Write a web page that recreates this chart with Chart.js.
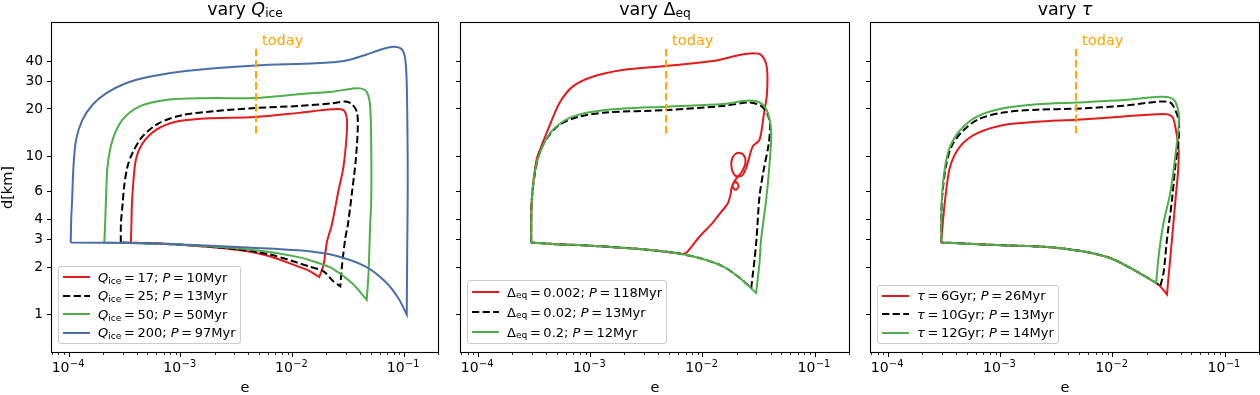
<!DOCTYPE html>
<html>
<head>
<meta charset="utf-8">
<script src="https://cdn.jsdelivr.net/npm/chart.js@4.4.0/dist/chart.umd.min.js"></script>
<style>
  html, body { margin: 0; padding: 0; background: #fff; }
  #wrap { position: relative; width: 1260px; height: 395px; overflow: hidden; font-family: "DejaVu Sans", sans-serif; color: #000; }
  canvas { position: absolute; top: 0; }
  .title { position: absolute; top: -1px; font-size: 17.5px; line-height: 20px; text-align: center; white-space: nowrap; }
  .sb { font-size: 70%; position: relative; top: 0.2em; }
  .legend { position: absolute; bottom: 51px; background: rgba(255,255,255,0.8); border: 1px solid #ccc; border-radius: 3px; padding: 1px 4px 1px 4px; font-size: 13px; }
  .legend .row { display: flex; align-items: center; white-space: nowrap; }
  .legend svg { flex: none; }
  .legend span.t { margin-left: 8px; }
</style>
</head>
<body>
<div id="wrap">
  <canvas id="c1" width="440" height="395" style="left:0px"></canvas>
  <canvas id="c2" width="420" height="395" style="left:440px"></canvas>
  <canvas id="c3" width="400" height="395" style="left:860px"></canvas>
  <div class="title" style="left:52px;width:386px">vary <i>Q</i><span class="sb">ice</span></div>
  <div class="title" style="left:461px;width:388px">vary Δ<span class="sb">eq</span></div>
  <div class="title" style="left:871px;width:388px">vary <i>τ</i></div>
  <div class="legend" id="lg1" style="left:58px"></div>
  <div class="legend" id="lg2" style="left:467px"></div>
  <div class="legend" id="lg3" style="left:877px"></div>
</div>
<script>
// axes
const xRange = [7e-5, 0.2];
const yRange = [0.58, 70];
const xTicks = [1e-4, 1e-3, 1e-2, 1e-1];
const xTickExponents = [-4, -3, -2, -1];
const yTicks = [1, 2, 3, 4, 6, 10, 20, 30, 40];

// "today" marker
const todayE = [0.0047, 0.0047];
const todayD = [14, 50];

// panel 1: vary Q_ice
const qIceValues = [17, 25, 50, 200];
const qIcePeriods = [10, 13, 50, 97];
const q17E = [3.56e-4, 3.6e-4, 3.63e-4, 3.72e-4, 3.94e-4, 4.52e-4, 5.94e-4, 8.97e-4, 1.66e-3, 4.65e-3, 0.0113, 0.0224, 0.0285, 0.0305, 0.0305, 0.0285, 0.0258, 0.0224, 0.0203, 0.0189, 0.0173, 0.016, 0.0139, 0.0113, 0.006, 0.003, 0.001, 3.56e-4];
const q17D = [2.86, 3.8, 4.83, 6.46, 9.5, 12.1, 14.7, 16.6, 17.4, 17.8, 18.9, 19.9, 19.7, 17.5, 14.0, 8.65, 6.16, 3.7, 2.9, 2.07, 1.73, 1.79, 1.9, 2.01, 2.36, 2.58, 2.77, 2.86];
const q25E = [2.89e-4, 2.9e-4, 3.0e-4, 3.1e-4, 3.32e-4, 3.67e-4, 4.52e-4, 6.37e-4, 1.03e-3, 2.04e-3, 4.65e-3, 0.0113, 0.0224, 0.0296, 0.0339, 0.0375, 0.0383, 0.0367, 0.0339, 0.0312, 0.0296, 0.0275, 0.0267, 0.0232, 0.0189, 0.0139, 0.0113, 0.006, 0.003, 0.001, 2.89e-4];
const q25D = [2.86, 3.8, 5.0, 6.5, 8.65, 10.5, 13.4, 16.3, 18.3, 19.4, 20.3, 20.9, 21.7, 22.3, 21.5, 19.2, 15.5, 9.5, 5.87, 3.7, 3.05, 1.97, 1.51, 1.62, 1.88, 2.02, 2.12, 2.42, 2.6, 2.77, 2.86];
const q50E = [2.06e-4, 2.1e-4, 2.13e-4, 2.2e-4, 2.44e-4, 2.99e-4, 4.22e-4, 7.3e-4, 1.66e-3, 4.65e-3, 0.0113, 0.0224, 0.0339, 0.0402, 0.046, 0.0494, 0.0505, 0.0505, 0.0494, 0.0477, 0.046, 0.0339, 0.0224, 0.016, 0.0113, 0.006, 0.003, 0.001, 2.06e-4];
const q50D = [2.86, 4.0, 5.33, 8.65, 12.75, 17.06, 20.7, 22.8, 23.4, 23.5, 24.8, 25.7, 26.9, 27.0, 25.7, 20.7, 11.0, 5.33, 3.7, 1.79, 1.24, 1.585, 1.97, 2.15, 2.31, 2.5, 2.64, 2.77, 2.86];
const q200E = [1.03e-4, 1.04e-4, 1.06e-4, 1.09e-4, 1.15e-4, 1.31e-4, 1.61e-4, 2.13e-4, 3.21e-4, 5.18e-4, 1.1e-3, 4.65e-3, 0.016, 0.0296, 0.0447, 0.0628, 0.0798, 0.0947, 0.1015, 0.105, 0.107, 0.107, 0.106, 0.105, 0.0884, 0.0673, 0.0446, 0.0224, 0.0113, 0.0043, 0.001, 3.7e-4, 1.03e-4];
const q200D = [2.86, 4.0, 5.33, 8.65, 12.75, 17.06, 21.2, 25.1, 29.1, 32.0, 34.8, 37.7, 38.9, 40.4, 43.9, 47.7, 49.5, 47.7, 41.8, 29.1, 10, 5.33, 2.5, 1.0, 1.27, 1.62, 2.02, 2.39, 2.55, 2.65, 2.78, 2.84, 2.86];

// panel 2: vary Delta_eq
const deltaEqValues = [0.002, 0.02, 0.2];
const deltaEqPeriods = [118, 13, 12];
const dEq0002E = [2.95e-4, 2.99e-4, 3.29e-4, 3.72e-4, 4.28e-4, 5.25e-4, 6.9e-4, 1.04e-3, 1.93e-3, 4.7e-3, 0.0122, 0.0212, 0.0279, 0.033, 0.037, 0.0372, 0.0348, 0.0319, 0.0278, 0.0255, 0.0239, 0.0221, 0.0195, 0.018, 0.0183, 0.0203, 0.023, 0.0239, 0.0221, 0.0195, 0.0183, 0.0195, 0.0208, 0.0195, 0.018, 0.0176, 0.0166, 0.0146, 0.0122, 0.0093, 0.00712, 0.00656, 0.00537, 0.00271, 0.001, 4.9e-4, 2.95e-4];
const dEq0002D = [2.86, 5.33, 9.5, 12.1, 15.5, 21.7, 27.7, 32.0, 35.3, 37.4, 40.2, 43.9, 45.0, 43.9, 37.0, 25.0, 18.3, 12.75, 11.6, 9.53, 8.24, 7.55, 7.55, 8.48, 9.81, 10.55, 10.25, 9.13, 8.0, 7.13, 6.53, 6.16, 6.53, 6.92, 6.34, 5.73, 5.03, 4.48, 3.81, 3.11, 2.46, 2.42, 2.47, 2.6, 2.73, 2.79, 2.86];
const dEq002E = [2.95e-4, 2.99e-4, 3.36e-4, 3.99e-4, 5.25e-4, 7.9e-4, 1.37e-3, 4.7e-3, 0.01503, 0.026, 0.033, 0.0379, 0.0396, 0.0385, 0.0345, 0.0319, 0.03, 0.0288, 0.0279, 0.0269, 0.0212, 0.01503, 0.0093, 0.00537, 0.00271, 0.001, 4.9e-4, 2.95e-4];
const dEq002D = [2.86, 5.33, 9.5, 12.75, 15.85, 17.9, 19.0, 19.7, 20.9, 22.0, 20.9, 18.3, 15.5, 12, 8, 5.59, 3.0, 2.22, 1.83, 1.47, 1.71, 2.02, 2.28, 2.47, 2.6, 2.73, 2.79, 2.86];
const dEq02E = [2.95e-4, 2.99e-4, 3.25e-4, 3.72e-4, 4.57e-4, 6.9e-4, 1.37e-3, 4.7e-3, 0.01503, 0.026, 0.033, 0.0379, 0.0406, 0.039, 0.0366, 0.033, 0.0319, 0.0308, 0.0298, 0.0212, 0.01503, 0.0093, 0.00537, 0.00271, 0.001, 4.9e-4, 2.95e-4];
const dEq02D = [2.86, 5.33, 8.65, 11.6, 14.7, 17.9, 19.7, 20.7, 21.5, 22.6, 21.7, 18.8, 14.0, 8.65, 5.33, 3.0, 2.12, 1.7, 1.37, 1.71, 2.02, 2.28, 2.47, 2.6, 2.73, 2.79, 2.86];

// panel 3: vary tau
const tauValues = [6, 10, 12];
const tauPeriods = [26, 13, 14];
const tau6E = [2.95e-4, 3.2e-4, 3.55e-4, 4.36e-4, 6.14e-4, 1.06e-3, 2.1e-3, 4.78e-3, 0.01245, 0.0282, 0.0336, 0.0359, 0.0385, 0.038, 0.0362, 0.0336, 0.0313, 0.0303, 0.0264, 0.0243, 0.0153, 0.00946, 0.00547, 0.00276, 0.00102, 5e-4, 2.95e-4];
const tau6D = [2.86, 5.33, 8.65, 11.6, 14.0, 15.85, 16.6, 17.1, 17.9, 18.6, 17.9, 15.5, 11.0, 8.0, 5.5, 3.0, 1.745, 1.34, 1.51, 1.585, 1.92, 2.28, 2.51, 2.67, 2.75, 2.81, 2.86];
const tau10E = [2.95e-4, 3.0e-4, 3.25e-4, 3.65e-4, 4.5e-4, 6.3e-4, 1.06e-3, 2.1e-3, 4.78e-3, 0.01245, 0.0264, 0.0324, 0.0347, 0.0385, 0.0385, 0.0359, 0.0336, 0.0303, 0.0282, 0.0264, 0.0243, 0.0153, 0.00946, 0.00547, 0.00276, 0.00102, 5e-4, 2.95e-4];
const tau10D = [2.86, 5.33, 8.65, 11.6, 14.3, 17.2, 19.0, 19.8, 20.1, 21.0, 22.3, 22.0, 20.7, 17.06, 12.75, 8.65, 5.33, 3.0, 1.83, 1.51, 1.585, 1.92, 2.28, 2.51, 2.67, 2.75, 2.81, 2.86];
const tau12E = [2.95e-4, 2.99e-4, 3.2e-4, 3.55e-4, 4.36e-4, 6.14e-4, 1.06e-3, 2.1e-3, 4.78e-3, 0.01245, 0.0264, 0.0324, 0.0359, 0.0385, 0.0385, 0.0359, 0.0324, 0.0282, 0.0255, 0.0243, 0.0153, 0.00946, 0.00547, 0.00276, 0.00102, 5e-4, 2.95e-4];
const tau12D = [2.86, 5.33, 8.65, 11.6, 14.7, 17.9, 20.2, 21.4, 22.0, 22.8, 23.9, 23.6, 22.3, 18.8, 15.5, 10, 5.87, 3.8, 2.33, 1.585, 1.92, 2.28, 2.51, 2.67, 2.75, 2.81, 2.86];

// styling
const FONT = '"DejaVu Sans", sans-serif';
const RED = '#e41a1c', BLACK = '#000000', GREEN = '#4daf4a', BLUE = '#4a6fa8', ORANGE = '#ffa500';
const DASH = [7.3, 3.3];

function series(label, e, d, color, dash, order) {
  var pts = e.map((x, i) => ({ x: x, y: d[i] }));
  // keep the cusp at the lowest point sharp: repeat it so the spline stops there
  var lo = d.indexOf(Math.min.apply(null, d));
  if (lo > 0 && lo < pts.length - 1) pts.splice(lo, 0, { x: e[lo], y: d[lo] });
  return {
    label: label,
    data: pts,
    showLine: true,
    borderColor: color,
    backgroundColor: color,
    borderWidth: 2,
    borderDash: dash || [],
    pointRadius: 0,
    tension: 0.3,
    order: order
  };
}

function todaySeries() {
  return {
    label: 'today',
    data: todayE.map((x, i) => ({ x: x, y: todayD[i] })),
    showLine: true, borderColor: ORANGE, borderWidth: 2, borderDash: [7.5, 3.5],
    pointRadius: 0, order: 0
  };
}

var framePlugin = {
  id: 'frame',
  afterDraw: function(chart) {
    var ctx = chart.ctx, a = chart.chartArea, s = chart.scales.x;
    ctx.save();
    // minor ticks on the log x axis
    ctx.strokeStyle = '#000';
    ctx.lineWidth = 0.8;
    for (var k = -5; k <= 0; k++) {
      for (var m = 2; m <= 9; m++) {
        var v = m * Math.pow(10, k);
        if (v < s.min || v > s.max) continue;
        var px = Math.round(s.getPixelForValue(v)) + 0.5;
        ctx.beginPath(); ctx.moveTo(px, a.bottom); ctx.lineTo(px, a.bottom + 3); ctx.stroke();
      }
    }
    ctx.lineWidth = 1.1;
    ctx.strokeRect(a.left - 0.5, a.top - 0.5, a.right - a.left + 1, a.bottom - a.top + 1);
    // x tick labels as 10 with a raised exponent
    ctx.fillStyle = '#000';
    ctx.textBaseline = 'alphabetic';
    xTicks.forEach(function(v, i) {
      var base = '10', sup = '\u2212' + Math.abs(xTickExponents[i]);
      ctx.font = '14px ' + FONT;
      var w1 = ctx.measureText(base).width;
      ctx.font = '9.8px ' + FONT;
      var w2 = ctx.measureText(sup).width;
      var x0 = s.getPixelForValue(v) - (w1 + w2) / 2 - 1.5;
      ctx.font = '14px ' + FONT;
      ctx.fillText(base, x0, a.bottom + 20);
      ctx.font = '9.8px ' + FONT;
      ctx.fillText(sup, x0 + w1 + 0.5, a.bottom + 15);
    });
    // today label
    var tx = s.getPixelForValue(todayE[0]) + 6;
    var ty = chart.scales.y.getPixelForValue(todayD[1]) - 1;
    ctx.fillStyle = ORANGE;
    ctx.font = '14.5px ' + FONT;
    ctx.fillText('today', tx, ty);
    ctx.restore();
  }
};

function makePanel(id, datasets, yWidth, padRight, showY) {
  return new Chart(document.getElementById(id), {
    type: 'scatter',
    data: { datasets: datasets },
    options: {
      responsive: false,
      animation: false,
      devicePixelRatio: 1,
      events: [],
      layout: { padding: { left: 0, right: padRight, top: 23, bottom: 0 } },
      plugins: { legend: { display: false }, tooltip: { enabled: false } },
      scales: {
        x: {
          type: 'logarithmic', min: xRange[0], max: xRange[1], bounds: 'data',
          afterBuildTicks: function(s) { s.ticks = xTicks.map(v => ({ value: v })); },
          afterFit: function(s) { s.height = 43; },
          ticks: { color: '#000', font: { family: FONT, size: 14 }, padding: 3, maxRotation: 0, autoSkip: false,
                   callback: function() { return ''; } },
          grid: { display: true, drawOnChartArea: false, drawTicks: true, tickLength: 5, tickColor: '#000', tickWidth: 1 },
          border: { display: false },
          title: { display: true, text: 'e', color: '#000', font: { family: FONT, size: 14.5, lineHeight: 1 }, padding: 0 }
        },
        y: {
          type: 'logarithmic', min: yRange[0], max: yRange[1], bounds: 'data',
          afterBuildTicks: function(s) { s.ticks = yTicks.map(v => ({ value: v })); },
          afterFit: function(s) { s.width = yWidth; },
          ticks: { color: '#000', font: { family: FONT, size: 13.8 }, padding: 4, autoSkip: false,
                   callback: function(v) { return showY ? String(v) : ''; } },
          grid: { display: true, drawOnChartArea: false, drawTicks: true, tickLength: 5, tickColor: '#000', tickWidth: 1 },
          border: { display: false },
          title: { display: showY, text: 'd[km]', color: '#000', font: { family: FONT, size: 14.5 }, padding: 0 }
        }
      }
    },
    plugins: [framePlugin]
  });
}

function buildLegend(elId, chart, labels, rowH) {
  var html = '';
  chart.data.datasets.forEach(function(ds, i) {
    if (ds.label === 'today') return;
    var dash = ds.borderDash.length ? ' stroke-dasharray="' + ds.borderDash.join(' ') + '"' : '';
    html += '<div class="row" style="height:' + rowH + 'px"><svg width="27" height="4"><line x1="0" y1="2" x2="27" y2="2" stroke="' +
      ds.borderColor + '" stroke-width="2"' + dash + '/></svg><span class="t">' + labels[i] + '</span></div>';
  });
  document.getElementById(elId).innerHTML = html;
}

const eq = '\u2009=\u2009';
var chart1 = makePanel('c1', [
  series('Q17', q17E, q17D, RED, null, 4),
  series('Q25', q25E, q25D, BLACK, DASH, 3),
  series('Q50', q50E, q50D, GREEN, null, 2),
  series('Q200', q200E, q200D, BLUE, null, 1),
  todaySeries()
], 52, 2, true);
buildLegend('lg1', chart1, qIceValues.map((q, i) =>
  '<i>Q</i><span class="sb">ice</span>' + eq + q + '; <i>P</i>' + eq + qIcePeriods[i] + 'Myr'), 18.5);

var chart2 = makePanel('c2', [
  series('D0002', dEq0002E, dEq0002D, RED, null, 3),
  series('D002', dEq002E, dEq002D, BLACK, DASH, 2),
  series('D02', dEq02E, dEq02D, GREEN, null, 1),
  todaySeries()
], 21, 11, false);
buildLegend('lg2', chart2, deltaEqValues.map((v, i) =>
  'Δ<span class="sb">eq</span>' + eq + v + '; <i>P</i>' + eq + deltaEqPeriods[i] + 'Myr'), 20);

var chart3 = makePanel('c3', [
  series('T6', tau6E, tau6D, RED, null, 3),
  series('T10', tau10E, tau10D, BLACK, DASH, 2),
  series('T12', tau12E, tau12D, GREEN, null, 1),
  todaySeries()
], 11, 1, false);
buildLegend('lg3', chart3, tauValues.map((v, i) =>
  '<i>τ</i>' + eq + v + 'Gyr; <i>P</i>' + eq + tauPeriods[i] + 'Myr'), 18.5);
</script>
</body>
</html>
